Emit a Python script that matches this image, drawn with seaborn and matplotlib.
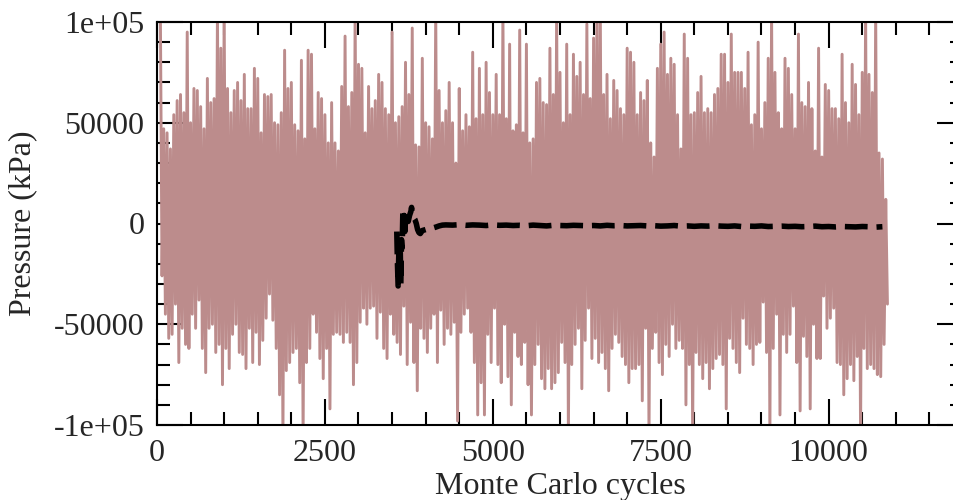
import numpy as np
import matplotlib
matplotlib.use("Agg")
import matplotlib.pyplot as plt
from matplotlib.ticker import MultipleLocator
import seaborn as sns

# ---- data (pressure in units of 1000 kPa) ----
# instantaneous pressure, one value every 25 Monte Carlo cycles starting at cycle 50
p_seg1 = [106,-26, 47,-45, 45,-57, 37,-55, 54,-40, 61,-69, 64,-52, 55,-60, 95,-62, 50,-45,
          67,-52, 66,-38, 58,-62, 47,-74, 72,-52, 60,-50, 62,-64, 106,-60, 87,-80, 106,-62,
          67,-72, 55,-55, 66,-50, 70,-64, 61,-65, 74,-72, 57,-52, 57,-69, 77,-54, 72,-70, 45,-58]
p_seg2 = [64,-47, 63,-35, 64,-48, 50,-62, 49,-85, 55,-106, 86,-73, 67,-69, 70,-64, 49,-62,
          46,-79, 81,-106, 42,-69, 86,-62, 84,-45, 47,-54, 65,-67, 62,-77, 54,-62, 40,-92,
          60,-55, 40,-54, 36,-55, 68,-59, 93,-54, 58,-59, 65,-80, 106,-69, 79,-49, 77,-42, 45,-50]
p_seg3 = [68,-42, 57,-41, 61,-57, 74,-44, 70,-62, 57,-67, 54,-45, 95,-55, 50,-59, 53,-65,
          58,-41, 80,-70, 64,-49, 97,-69, 39,-83, 38,-52, 82,-57, 50,-64, 48,-52, 42,-45,
          106,-69, 66,-43, 50,-60, 56,-52, 70,-55, 50,-49, 30,-98, 67,-54, 46,-45, 54,-42, 48,-54]
p_seg4 = [85,-69, 52,-95, 77,-79, 54,-95, 80,-55, 65,-69, 54,-42, 74,-70, 54,-79, 106,-50,
          52,-76, 89,-90, 46,-54, 49,-66, 96,-70, 45,-59, 89,-80, 40,-95, 42,-70, 70,-60,
          72,-77, 60,-82, 59,-72, 87,-82, 64,-79, 106,-74, 75,-59, 50,-69, 89,-106, 54,-70, 84,-60]
p_seg5 = [73,-52, 80,-82, 64,-58, 99,-42, 62,-67, 92,-57, 106,-69, 106,-64, 64,-72, 74,-83,
          52,-62, 71,-55, 66,-59, 57,-66, 54,-70, 87,-79, 85,-72, 80,-72, 54,-70, 65,-88,
          61,-52, 71,-106, 40,-62, 33,-54, 77,-69, 89,-75, 95,-60, 74,-66, 82,-50, 79,-62, 54,-58]
p_seg6 = [37,-62, 94,-90, 82,-70, 54,-106, 55,-64, 65,-70, 73,-77, 55,-69, 57,-82, 55,-72,
          64,-67, 67,-65, 84,-70, 84,-92, 70,-57, 94,-62, 75,-69, 75,-74, 75,-47, 67,-60,
          85,-62, 49,-70, 54,-60, 90,-59, 47,-39, 60,-64, 82,-106, 106,-62, 75,-45, 55,-95, 47,-55]
p_seg7 = [82,-64, 77,-55, 64,-41, 47,-69, 94,-93, 60,-56, 58,-66, 70,-92, 57,-50, 36,-67,
          87,-67, 33,-36, 69,-52, 66,-47, 57,-42, 57,-69, 52,-70, 84,-85, 60,-77, 50,-70,
          79,-78, 69,-66, 54,-106, 75,-62, 106,-72, 74,-70, 65,-72, 106,-75, 35,-76, 32,-60, 12,-40]
pressure_k = p_seg1 + p_seg2 + p_seg3 + p_seg4 + p_seg5 + p_seg6 + p_seg7
cycles = np.arange(50, 50 + 25 * len(pressure_k), 25)

# running average pressure
avg_cycles = [3570, 3580, 3590, 3600, 3610, 3620, 3630, 3640, 3650, 3660, 3670, 3680, 3690,
              3700, 3720, 3740, 3760, 3780, 3790, 3800, 3820, 3840, 3860, 3880, 3900, 3920,
              3950, 4000, 4050, 4100, 4150, 4200, 4250, 4300] + list(range(4400, 10900, 100))
avg_k = [-4, -20, -31, -15, -28, -10, -30, -8, -12, 5, -3, 4, -4,
         3, 6, 1, 4, 6, 8, 5, 3, 2, 0, -3, -4.5, -5,
         -3.5, -3, -2.5, -2.3, -1.8, -1.2, -0.8, -0.7,
         -0.8, -0.6, -0.9, -0.7, -0.8, -1.0, -0.7, -0.9, -0.8, -1.0,
         -0.9, -1.1, -0.8, -1.0, -1.2, -0.9, -1.0, -1.1, -0.9, -1.0,
         -1.1, -1.0, -1.2, -0.9, -1.1, -1.0, -1.2, -1.1, -1.0, -1.2,
         -1.1, -1.3, -1.2, -1.0, -1.3, -1.2, -1.4, -1.2, -1.3, -1.1,
         -1.3, -1.4, -1.2, -1.5, -1.3, -1.4, -1.2, -1.5, -1.4, -1.3,
         -1.5, -1.4, -1.6, -1.5, -1.3, -1.6, -1.5, -1.7, -1.5, -1.6,
         -1.7, -1.5, -1.6, -1.8, -1.6]

xticks = [0, 2500, 5000, 7500, 10000]
yticks = [-100000, -50000, 0, 50000, 100000]
ytick_labels = ["-1e+05", "-50000", "0", "50000", "1e+05"]

# ---- plotting ----
sns.set_style("ticks")
plt.rcParams["font.family"] = ["Liberation Serif", "DejaVu Serif"]

fig = plt.figure(figsize=(9.54, 5.0), dpi=100)
ax = fig.add_axes([157 / 954, 75 / 500, (963 - 157) / 954, 403 / 500])

sns.lineplot(x=cycles, y=np.array(pressure_k) * 1000, ax=ax, color="#bc8c8c",
             lw=2.1, estimator=None)
sns.lineplot(x=avg_cycles, y=np.array(avg_k) * 1000, ax=ax, color="black",
             lw=4.0, estimator=None, linestyle=(0, (4.1, 1.6)))

ax.set_xlim(0, 12000)
ax.set_ylim(-100000, 100000)
ax.set_xticks(xticks)
ax.set_xticklabels([str(t) for t in xticks])
ax.set_yticks(yticks)
ax.set_yticklabels(ytick_labels)
ax.xaxis.set_minor_locator(MultipleLocator(500))
ax.yaxis.set_minor_locator(MultipleLocator(10000))
ax.tick_params(which="both", direction="in", top=True, right=True, width=1.5,
               color="black", labelsize=23)
ax.tick_params(axis="x", pad=10)
ax.tick_params(axis="y", pad=9)
ax.tick_params(which="major", length=19)
ax.tick_params(which="minor", length=9.5)
for s in ax.spines.values():
    s.set_linewidth(1.5)
    s.set_color("black")

ax.set_xlabel("Monte Carlo cycles", fontsize=23, labelpad=3)
ax.set_ylabel("Pressure (kPa)", fontsize=23, labelpad=12)

fig.savefig("out.png", dpi=100)
